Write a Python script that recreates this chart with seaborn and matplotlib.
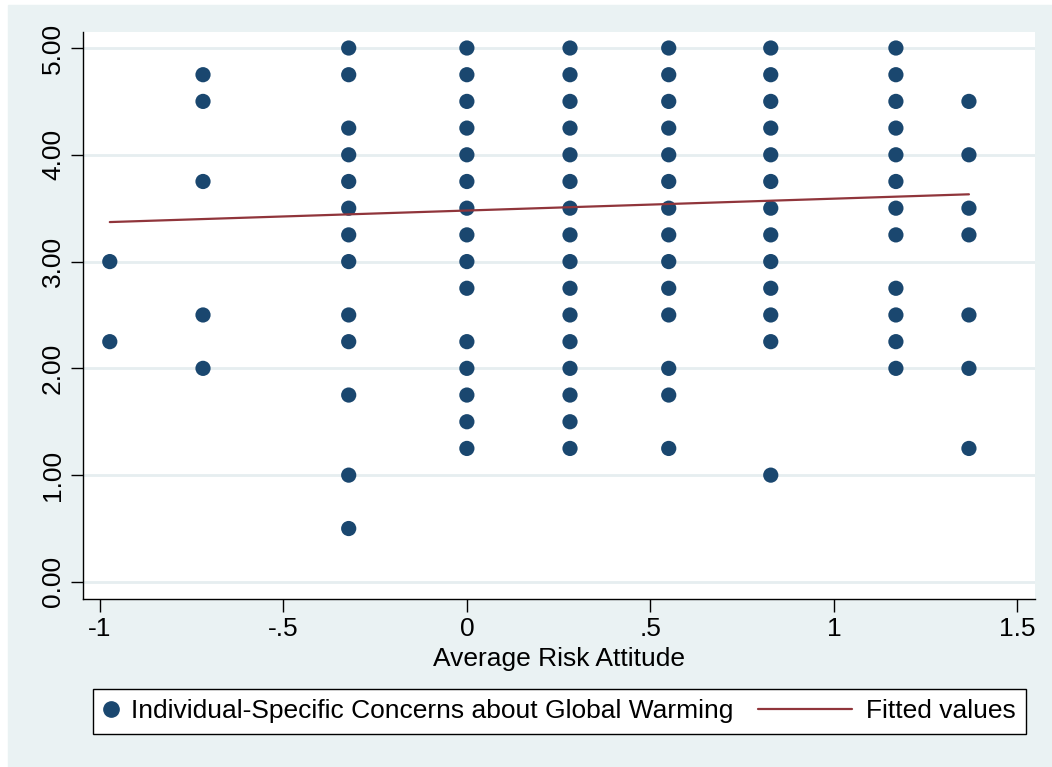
import pandas as pd
import seaborn as sns
import matplotlib.pyplot as plt
from matplotlib.patches import Rectangle
from matplotlib.lines import Line2D
from matplotlib.legend_handler import HandlerLine2D

# distinct risk-attitude levels (x) and the concern scores seen at each
risk_levels = [-0.973, -0.719, -0.322, 0.0, 0.281, 0.550, 0.828, 1.169, 1.368]
concern_by_level = [
    [3.00, 2.25],
    [4.75, 4.50, 3.75, 2.50, 2.00],
    [5.00, 4.75, 4.25, 4.00, 3.75, 3.50, 3.25, 3.00, 2.50, 2.25, 1.75, 1.00, 0.50],
    [5.00, 4.75, 4.50, 4.25, 4.00, 3.75, 3.50, 3.25, 3.00, 2.75, 2.25, 2.00, 1.75, 1.50, 1.25],
    [5.00, 4.75, 4.50, 4.25, 4.00, 3.75, 3.50, 3.25, 3.00, 2.75, 2.50, 2.25, 2.00, 1.75, 1.50, 1.25],
    [5.00, 4.75, 4.50, 4.25, 4.00, 3.75, 3.50, 3.25, 3.00, 2.75, 2.50, 2.00, 1.75, 1.25],
    [5.00, 4.75, 4.50, 4.25, 4.00, 3.75, 3.50, 3.25, 3.00, 2.75, 2.50, 2.25, 1.00],
    [5.00, 4.75, 4.50, 4.25, 4.00, 3.75, 3.50, 3.25, 2.75, 2.50, 2.25, 2.00],
    [4.50, 4.00, 3.50, 3.25, 2.50, 2.00, 1.25],
]

# fitted line end points
fit_x = [-0.973, 1.368]
fit_y = [3.37, 3.63]

x_ticks = [-1, -0.5, 0, 0.5, 1, 1.5]
x_tick_labels = ["-1", "-.5", "0", ".5", "1", "1.5"]
y_ticks = [0, 1, 2, 3, 4, 5]
y_tick_labels = ["0.00", "1.00", "2.00", "3.00", "4.00", "5.00"]

navy = "#1a476f"
maroon = "#90353b"
bg = "#eaf2f3"
FS = 19

rows = []
for x, ys in zip(risk_levels, concern_by_level):
    for y in ys:
        rows.append({"risk": x, "concern": y})
df = pd.DataFrame(rows)
fit_df = pd.DataFrame({"risk": fit_x, "fitted": fit_y})

sns.set_style("white")
plt.rcParams["font.family"] = ["Liberation Sans", "DejaVu Sans"]
plt.rcParams["text.color"] = "black"
plt.rcParams["axes.labelcolor"] = "black"
plt.rcParams["xtick.color"] = "black"
plt.rcParams["ytick.color"] = "black"

W, H = 1052, 767
fig = plt.figure(figsize=(W / 100, H / 100), dpi=100, facecolor="white")
fig.patches.append(Rectangle((8 / W, 0), 1 - 8 / W, (H - 5) / H,
                             transform=fig.transFigure, color=bg, zorder=-5))

ax = fig.add_axes([83 / W, (H - 599) / H, (1035 - 83) / W, (599 - 32) / H])
ax.set_zorder(1)
ax.set_facecolor("white")

sns.scatterplot(data=df, x="risk", y="concern", ax=ax, color=navy, s=120,
                edgecolor="none", zorder=3)
sns.lineplot(data=fit_df, x="risk", y="fitted", ax=ax, color=maroon, lw=1.6,
             zorder=4)

ax.set_xlim(-1.046, 1.548)
ax.set_ylim(-0.16, 5.15)
ax.set_xticks(x_ticks)
ax.set_xticklabels(x_tick_labels)
ax.set_yticks(y_ticks)
ax.set_yticklabels(y_tick_labels, rotation=90, va="center")
ax.tick_params(axis="both", direction="out", length=9, width=1, color="black",
               labelsize=FS, pad=4, left=True, bottom=True)
ax.grid(axis="y", color="#e6eef0", lw=2)
ax.set_axisbelow(True)
for side in ["top", "right"]:
    ax.spines[side].set_visible(False)
for side in ["left", "bottom"]:
    ax.spines[side].set_color("black")
    ax.spines[side].set_linewidth(1)

ax.set_xlabel("Average Risk Attitude", fontsize=FS, labelpad=4)
ax.set_ylabel("")


class LongLineHandler(HandlerLine2D):
    # line key reaching back into the column gap, like Stata's legend key
    def get_xdata(self, legend, xdescent, ydescent, width, height, fontsize):
        x1 = -xdescent + width - 1
        x0 = x1 - 68
        return [x0, x1], [(x0 + x1) / 2]


marker_key = Line2D([], [], marker="o", ls="none", color=navy, markersize=11)
line_key = Line2D([], [], color=maroon, lw=1.6)
labels = ["Individual-Specific Concerns about Global Warming", "Fitted values"]
leg = fig.legend([marker_key, line_key], labels, loc="lower left", ncol=2,
                 bbox_to_anchor=(93 / W, (H - 734) / H),
                 fontsize=FS, frameon=True, fancybox=False, edgecolor="black",
                 framealpha=1, handlelength=0.6, handletextpad=0.45,
                 columnspacing=3.95, borderpad=0.4, borderaxespad=0,
                 handler_map={line_key: LongLineHandler()})
leg.get_frame().set_linewidth(1)
leg.get_frame().set_facecolor("white")

fig.savefig("out.png", dpi=100, facecolor=fig.get_facecolor())
